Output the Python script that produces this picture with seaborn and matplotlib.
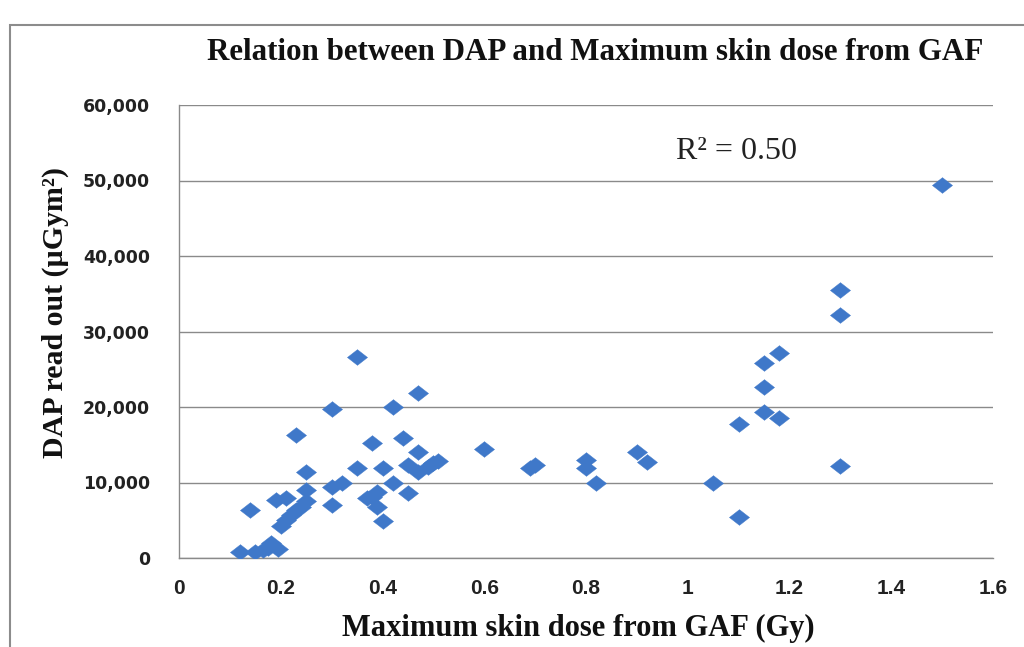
import matplotlib
matplotlib.use("Agg")
import matplotlib.pyplot as plt
import seaborn as sns
import pandas as pd
from matplotlib.patches import Rectangle
from matplotlib.ticker import FuncFormatter

# Maximum skin dose from GAF (Gy)
skin_dose = [
    0.12, 0.15, 0.165, 0.175, 0.18, 0.195,
    0.14, 0.19, 0.21, 0.20, 0.21, 0.22, 0.23, 0.24, 0.25, 0.25, 0.25, 0.23,
    0.30, 0.30, 0.32, 0.30, 0.35, 0.35,
    0.38, 0.42, 0.47, 0.44, 0.47, 0.40, 0.45, 0.47, 0.50, 0.49, 0.51,
    0.42, 0.45, 0.38, 0.39, 0.40, 0.39, 0.37,
    0.60, 0.69, 0.70, 0.80, 0.80, 0.82, 0.90, 0.92,
    1.05, 1.10, 1.10, 1.15, 1.15, 1.15, 1.18, 1.18, 1.30, 1.30, 1.30, 1.50,
]
# DAP read out (uGym2)
dap = [
    800, 800, 1000, 1300, 2000, 1200,
    6400, 7700, 8000, 4300, 5000, 5700, 6300, 6800, 7600, 9000, 11400, 16300,
    19700, 9400, 10000, 7000, 26600, 11900,
    15200, 20000, 21800, 15900, 14000, 11900, 12300, 11400, 12600, 12000, 12900,
    9900, 8600, 8100, 6800, 4900, 8800, 8000,
    14400, 11900, 12300, 13000, 11900, 9900, 14000, 12700,
    10000, 17700, 5400, 25800, 22700, 19300, 27100, 18600, 35500, 32200, 12200, 49400,
]
x_ticks = [0, 0.2, 0.4, 0.6, 0.8, 1.0, 1.2, 1.4, 1.6]
y_ticks = [0, 10000, 20000, 30000, 40000, 50000, 60000]
title = "Relation between DAP and Maximum skin dose from GAF"
x_label = "Maximum skin dose from GAF (Gy)"
y_label = "DAP read out (\u00b5Gym\u00b2)"
r2_text = "R\u00b2 = 0.50"

df = pd.DataFrame({"dose": skin_dose, "dap": dap})

sns.set_theme(style="white")
plt.rcParams["font.family"] = ["DejaVu Sans"]

fig = plt.figure(figsize=(10.24, 6.47), dpi=100)
fig.patch.set_facecolor("white")
ax = fig.add_axes([179 / 1024, 1 - 558 / 647, (993 - 179) / 1024, (558 - 105) / 647])

# outer chart frame
fig.patches.append(Rectangle((10 / 1024, -0.05), 1.2, 1 - 25 / 647 + 0.05,
                             transform=fig.transFigure, fill=False,
                             edgecolor="#8c8c8c", linewidth=1.5, zorder=0))

diamond = [(-1, 0), (0, 0.78), (1, 0), (0, -0.78), (-1, 0)]
sns.scatterplot(data=df, x="dose", y="dap", ax=ax, marker=diamond, s=210,
                color="#3f78c9", edgecolor="#3f78c9", linewidth=0.3, zorder=3,
                legend=False)

ax.set_xlim(0, 1.6)
ax.set_ylim(0, 60000)
ax.set_xticks(x_ticks)
ax.set_yticks(y_ticks)
ax.xaxis.set_major_formatter(FuncFormatter(lambda v, p: "0" if v == 0 else ("1" if abs(v - 1) < 1e-9 else f"{v:g}")))
ax.yaxis.set_major_formatter(FuncFormatter(lambda v, p: f"{int(v):,}"))
ax.yaxis.grid(True, color="#8a8a8a", linewidth=1.0)
ax.xaxis.grid(False)
ax.set_axisbelow(True)
for side in ["top", "right"]:
    ax.spines[side].set_visible(False)
ax.spines["left"].set_color("#8a8a8a")
ax.spines["bottom"].set_color("#8a8a8a")
ax.spines["left"].set_linewidth(1.0)
ax.spines["bottom"].set_linewidth(1.0)

ax.tick_params(axis="y", length=0, pad=21)
ax.tick_params(axis="x", length=0, pad=15)
for lab in ax.get_yticklabels():
    lab.set_fontfamily(["DejaVu Sans"])
    lab.set_fontweight("bold")
    lab.set_fontsize(12.5)
    lab.set_color("#222222")
for lab in ax.get_xticklabels():
    lab.set_fontfamily(["Liberation Sans Narrow", "Liberation Sans", "DejaVu Sans"])
    lab.set_fontweight("bold")
    lab.set_fontsize(15)
    lab.set_color("#222222")

ax.set_xlabel("")
ax.set_ylabel("")
serif = ["Liberation Serif", "DejaVu Serif"]
fig.text(595 / 1024, 1 - 53 / 647, title, ha="center", va="center",
         fontfamily=serif, fontweight="bold", fontsize=22.3, color="#111111")
fig.text(578 / 1024, 1 - 628 / 647, x_label, ha="center", va="center",
         fontfamily=serif, fontweight="bold", fontsize=22, color="#111111")
fig.text(55 / 1024, 1 - 312 / 647, y_label, ha="center", va="center", rotation=90,
         fontfamily=serif, fontweight="bold", fontsize=21.5, color="#111111")
ax.text(1.095, 53800, r2_text, ha="center", va="center", fontfamily=serif,
        fontsize=23, color="#222222")

fig.savefig("out.png", dpi=100, facecolor="white")
